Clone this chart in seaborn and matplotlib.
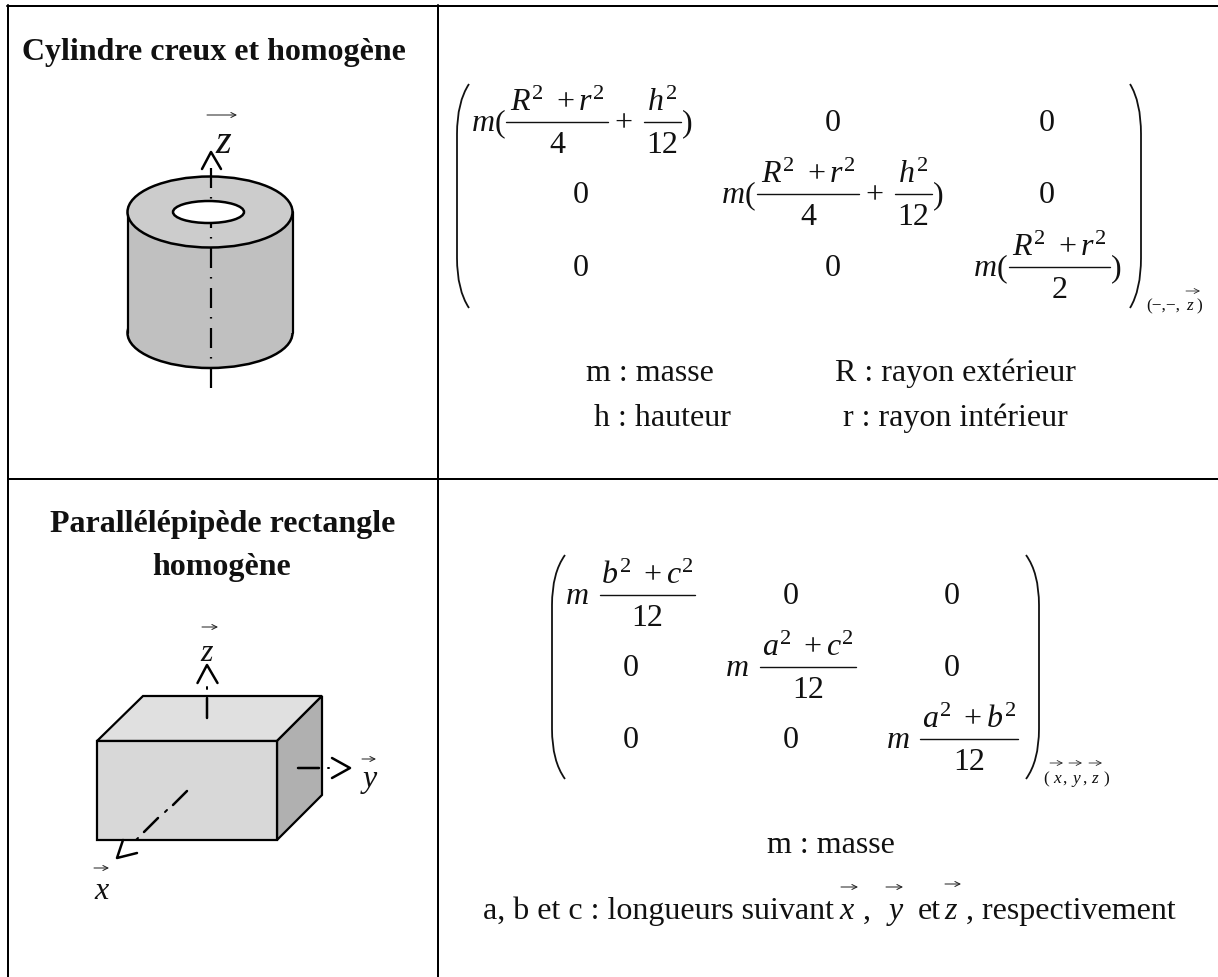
import numpy as np
import seaborn as sns
import matplotlib
matplotlib.use("Agg")
import matplotlib.pyplot as plt
from matplotlib.patches import Ellipse, PathPatch, Polygon, Rectangle
from matplotlib.path import Path

# table text
titles = ["Cylindre creux et homogène", "Parallélépipède rectangle", "homogène"]
legend_cyl = ["m : masse", "R : rayon extérieur", "h : hauteur", "r : rayon intérieur"]
legend_box = ["m : masse", "a, b et c : longueurs suivant", ",", "et", ", respectivement"]

# matrix entries
num_cyl = r"$R^{2}\ +r^{2}$"
num_h = r"$h^{2}$"
den_cyl = ["4", "12", "2"]
num_box = [r"$b^{2}\ +c^{2}$", r"$a^{2}\ +c^{2}$", r"$a^{2}\ +b^{2}$"]
den_box = "12"
zero = "0"

# shading of the drawings
cyl_colors = ["#cccccc", "#c0c0c0"]
box_colors = ["#d8d8d8", "#e0e0e0", "#b0b0b0"]

sns.set_theme(style="white")
plt.rcParams["font.family"] = ["Liberation Serif", "DejaVu Serif"]
plt.rcParams["mathtext.fontset"] = "custom"
plt.rcParams["mathtext.rm"] = "Liberation Serif"
plt.rcParams["mathtext.it"] = "Liberation Serif:italic"
plt.rcParams["mathtext.bf"] = "Liberation Serif:bold"
plt.rcParams["lines.scale_dashes"] = False

fig = plt.figure(figsize=(12.18, 9.77), dpi=100)
ax = fig.add_axes([0, 0, 1, 1])
ax.set_xlim(0, 1218)
ax.set_ylim(977, 0)
ax.axis("off")

BODY = 23
INK = "#111111"


def stroke(xs, ys, lw=2.5, color="black", z=3, **kw):
    # lw in pixels
    sns.lineplot(x=xs, y=ys, ax=ax, sort=False, estimator=None, legend=False,
                 color=color, linewidth=lw * 0.72, zorder=z, **kw)


def txt(x, y, s, size=BODY, ha="center", **kw):
    ax.text(x, y, s, fontsize=size, ha=ha, va="baseline", color=INK, zorder=5, **kw)


def arrow(x0, x1, y, lw=1.0):
    ax.annotate("", xy=(x1, y), xytext=(x0, y),
                arrowprops=dict(arrowstyle="->", lw=lw * 0.72, color="#222222",
                                mutation_scale=9, shrinkA=0, shrinkB=0), zorder=5)


def paren(x_out, x_in, top, bot, lw=1.8):
    verts = [(x_out, top), (x_in, top + 18), (x_in, top + 50), (x_in, bot - 50),
             (x_in, bot - 18), (x_out, bot)]
    codes = [Path.MOVETO, Path.CURVE3, Path.CURVE3, Path.LINETO, Path.CURVE3, Path.CURVE3]
    ax.add_patch(PathPatch(Path(verts, codes), fill=False, lw=lw * 0.72, ec=INK, zorder=4))


def frac(x0, x1, bar_y, num, den, num_dy=-11, den_dy=31, size=BODY):
    stroke([x0, x1], [bar_y, bar_y], lw=1.4, color=INK, z=4)
    mid = (x0 + x1) / 2
    txt(mid, bar_y + num_dy, num, size=size)
    txt(mid, bar_y + den_dy, den, size=size)


# table rules (the right and bottom borders fall outside the picture)
for xs, ys in [([8, 8], [5, 977]), ([438, 438], [5, 977]),
               ([7, 1218], [6, 6]), ([8, 1218], [479, 479])]:
    stroke(xs, ys, lw=2)

# titles
txt(214, 60, titles[0], weight="bold")
txt(222.5, 532, titles[1], weight="bold")
txt(222, 575, titles[2], weight="bold")

# --- cylinder ---
cx, top_y, bot_y = 210, 212, 333
ax.add_patch(Ellipse((cx, bot_y), 165, 70, fc=cyl_colors[1], ec="black", lw=1.8, zorder=1))
ax.add_patch(Rectangle((cx - 82.5, top_y), 165, bot_y - top_y, fc=cyl_colors[1], ec="none", zorder=1))
stroke([cx - 82.5, cx - 82.5], [top_y, bot_y], lw=2.2, z=2)
stroke([cx + 82.5, cx + 82.5], [top_y, bot_y], lw=2.2, z=2)
ax.add_patch(Ellipse((cx, top_y), 165, 71, fc=cyl_colors[0], ec="black", lw=1.8, zorder=2))
stroke([211, 211], [388, 167], lw=2.2, z=3, linestyle=(0, (14.4, 6.8, 1.1, 6.5)))
ax.add_patch(Ellipse((208.5, top_y), 71, 22, fc="white", ec="black", lw=1.8, zorder=4))
stroke([202, 211, 221], [169, 152, 169], lw=2.5)
txt(223, 153, "z", size=29, style="italic")
arrow(207, 237, 115)

# --- box ---
ax.add_patch(Polygon([(97, 741), (143, 696), (322, 696), (277, 741)], fc=box_colors[1], ec="black", lw=1.6, zorder=1))
ax.add_patch(Polygon([(277, 741), (322, 696), (322, 795), (277, 840)], fc=box_colors[2], ec="black", lw=1.6, zorder=1))
ax.add_patch(Rectangle((97, 741), 180, 99, fc=box_colors[0], ec="black", lw=1.6, zorder=1))
# z axis
stroke([207, 207], [698, 718])
stroke([207, 207], [687, 689], lw=2)
stroke([197.5, 207, 217.5], [683, 665, 683])
txt(207, 661, "z", style="italic")
arrow(202, 218, 627)
# y axis
stroke([298, 319], [768, 768])
stroke([327.5, 329], [768, 768], lw=2)
stroke([332, 350, 332], [758, 768, 778])
txt(370, 787, "y", style="italic")
arrow(362, 376, 759)
# x axis
stroke([187, 173], [791, 805])
stroke([167, 165], [810, 812], lw=2)
stroke([158, 144], [818, 832])
stroke([138, 136], [838, 840], lw=2)
stroke([123, 117, 137], [840, 858, 853])
txt(102, 899, "x", style="italic")
arrow(94, 109, 868)

# --- cylinder matrix ---
paren(469, 457, 84, 308)
paren(1130, 1141, 84, 308)
for mx, bar0, by in [(472, 506, 122), (722, 757, 194)]:
    txt(mx, by + 9, "m", ha="left", style="italic")
    txt(mx + 23, by + 9, "(", ha="left")
    frac(bar0, bar0 + 102, by, num_cyl, den_cyl[0])
    txt(bar0 + 117, by + 9, "+")
    frac(bar0 + 138, bar0 + 175, by, num_h, den_cyl[1])
    txt(bar0 + 176, by + 9, ")", ha="left")
txt(974, 276, "m", ha="left", style="italic")
txt(997, 276, "(", ha="left")
frac(1009, 1110, 267, num_cyl, den_cyl[2])
txt(1111, 276, ")", ha="left")
for x, y in [(833, 131), (1047, 131), (581, 203), (1047, 203), (581, 276), (833, 276)]:
    txt(x, y, zero)
txt(1146, 310, "(−,−,", size=12.5, ha="left")
txt(1190, 310, "z", size=12.5, style="italic")
txt(1199, 310, ")", size=12.5)
arrow(1186, 1200, 291, lw=0.8)

txt(650, 381, legend_cyl[0])
txt(955, 381, legend_cyl[1])
txt(662, 426, legend_cyl[2])
txt(955, 426, legend_cyl[3])

# --- box matrix ---
paren(565, 552, 555, 779)
paren(1026, 1039, 555, 779)
bars = [(600, 695, 595), (760, 856, 667), (920, 1018, 739)]
m_left = [566, 726, 887]
for i in range(3):
    x0, x1, by = bars[i]
    frac(x0, x1, by, num_box[i], den_box)
    txt(m_left[i], by + 9, "m", ha="left", style="italic")
for x, y in [(791, 604), (952, 604), (631, 676), (952, 676), (631, 748), (791, 748)]:
    txt(x, y, zero)
txt(1043, 783, "(", size=12.5, ha="left")
txt(1057, 783, "x", size=12.5, style="italic")
txt(1065, 783, ",", size=12.5)
txt(1076, 783, "y", size=12.5, style="italic")
txt(1085, 783, ",", size=12.5)
txt(1095, 783, "z", size=12.5, style="italic")
txt(1106, 783, ")", size=12.5)
for x0 in [1050, 1069, 1089]:
    arrow(x0, x0 + 13, 763, lw=0.8)

txt(831, 853, legend_box[0])
txt(483, 919, legend_box[1], ha="left")
txt(847, 919, "x", style="italic")
arrow(841, 858, 887)
txt(867, 919, legend_box[2])
txt(896, 919, "y", style="italic")
arrow(886, 903, 887)
txt(929, 919, legend_box[3])
txt(951, 919, "z", style="italic")
arrow(945, 961, 884)
txt(966, 919, legend_box[4], ha="left")

fig.savefig("out.png", dpi=100, facecolor="white")
